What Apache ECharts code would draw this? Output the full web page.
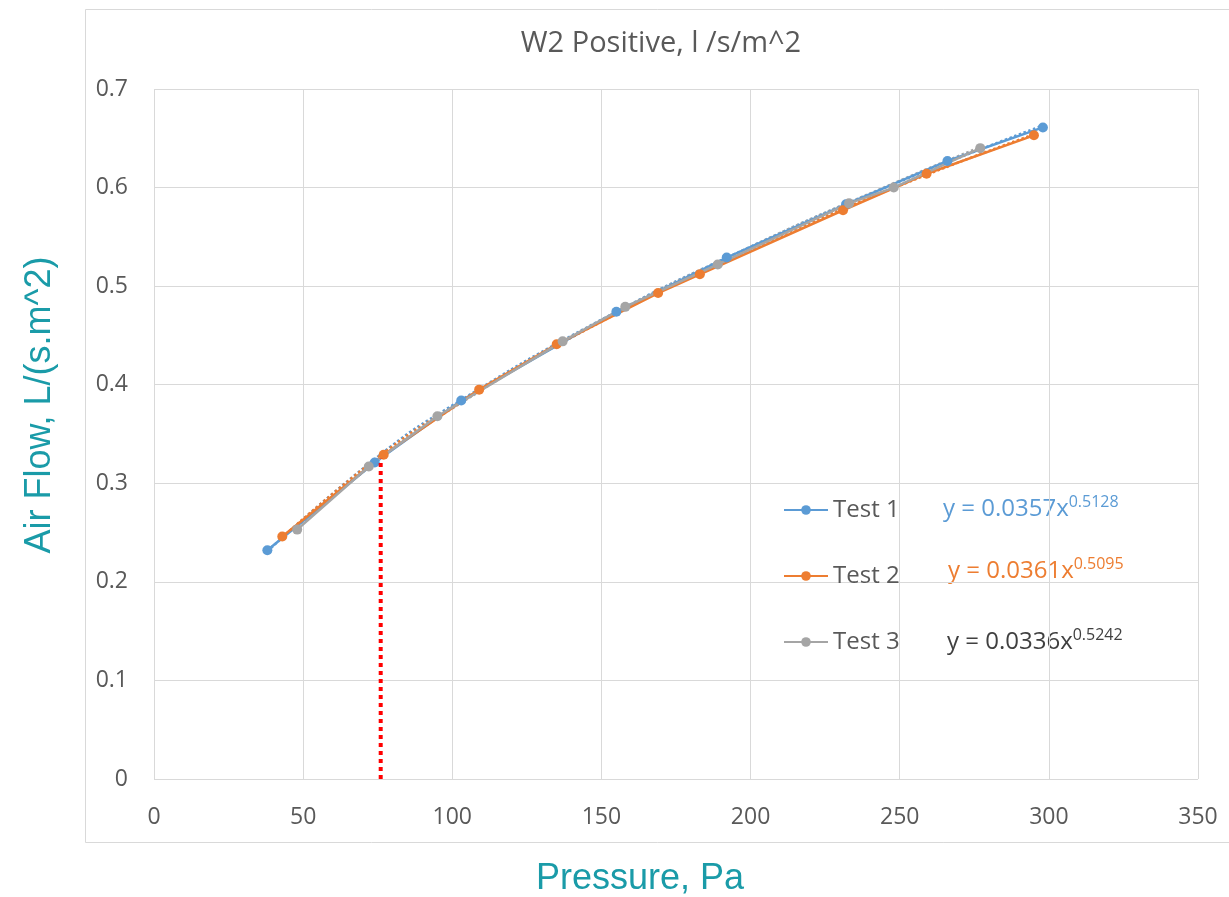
<!DOCTYPE html>
<html>
<head>
<meta charset="utf-8">
<script src="https://cdn.jsdelivr.net/npm/echarts@6/dist/echarts.min.js"></script>
<style>
html,body{margin:0;padding:0;background:#fff;}
#main{width:1229px;height:897px;}
</style>
</head>
<body>
<div id="main"></div>
<script>
var test1 = [[38,0.232],[74,0.321],[103,0.384],[155,0.474],[192,0.529],[232,0.583],[266,0.627],[298,0.661]];
var test2 = [[43,0.246],[77,0.329],[109,0.395],[135,0.441],[169,0.493],[183,0.512],[231,0.577],[259,0.614],[295,0.653]];
var test3 = [[48,0.253],[72,0.317],[95,0.368],[137,0.444],[158,0.479],[189,0.522],[233,0.584],[248,0.600],[277,0.640]];
// power trendlines (dotted), estimated along the drawn curve
var trend1 = [[38,0.231],[75,0.327],[100,0.379],[150,0.466],[200,0.540],[250,0.606],[298,0.663]];
var trend2 = [[43,0.245],[75,0.326],[100,0.377],[150,0.464],[200,0.537],[250,0.602],[295,0.654]];
var trend3 = [[48,0.256],[75,0.323],[100,0.376],[150,0.465],[200,0.540],[250,0.607],[277,0.641]];
var marker = [[76,0],[76,0.325]];
var names = ['Test 1','Test 2','Test 3'];
var colors = ['#5B9BD5','#ED7D31','#A5A5A5'];
var eqs = [['0.0357','0.5128'],['0.0361','0.5095'],['0.0336','0.5242']];
var eqColors = ['#5B9BD5','#ED7D31','#404040'];
var eqPos = [[943,494],[948,556],[947,627]];

var chart = echarts.init(document.getElementById('main'));
var lbl = '#595959';
var teal = '#1A9BA8';

function dataSeries(i, d){
    return {
        name: names[i], type: 'line', data: d, symbol: 'circle', symbolSize: 10,
        itemStyle: {color: colors[i]},
        lineStyle: {color: colors[i], width: 2.5},
        z: 3
    };
}
function trendSeries(i, d){
    return {
        name: names[i] + ' trend', type: 'line', data: d, smooth: true, symbol: 'none',
        lineStyle: {color: colors[i], width: 2.5, type: 'dotted'},
        z: 2, silent: true
    };
}

var graphics = [{
    type: 'rect', left: 83, top: 7, z: -10,
    shape: {width: 1200, height: 833},
    style: {fill: 'none', stroke: '#D9D9D9', lineWidth: 1}
}, {
    type: 'text', x: 661, y: 29,
    style: {text: 'W2 Positive, l /s/m^2', fill: lbl, fontSize: 29, fontFamily: 'Open Sans', textAlign: 'center'}
}, {
    type: 'text', x: 40, y: 405, rotation: Math.PI / 2,
    style: {text: 'Air Flow, L/(s.m^2)', fill: teal, fontSize: 36, fontFamily: 'Liberation Sans',
            textAlign: 'center', textVerticalAlign: 'middle'}
}, {
    type: 'text', x: 640, y: 879,
    style: {text: 'Pressure, Pa', fill: teal, fontSize: 36, fontFamily: 'Liberation Sans',
            textAlign: 'center', textVerticalAlign: 'middle'}
}];
eqs.forEach(function(e, i){
    graphics.push({
        type: 'text', x: eqPos[i][0], y: eqPos[i][1],
        style: {
            text: '{b|y = ' + e[0] + 'x}{s|' + e[1] + '}',
            rich: {
                b: {fontSize: 24, lineHeight: 30, fontFamily: 'Open Sans', fill: eqColors[i]},
                s: {fontSize: 16, lineHeight: 16, fontFamily: 'Open Sans', fill: eqColors[i], verticalAlign: 'top'}
            }
        }
    });
});

chart.setOption({
    backgroundColor: '#fff',
    animation: false,
    legend: {
        data: names, orient: 'vertical', left: 783, top: 498, padding: 0,
        itemWidth: 44, itemHeight: 12, itemGap: 42,
        textStyle: {color: lbl, fontSize: 24, lineHeight: 24, fontFamily: 'Open Sans'}
    },
    grid: {left: 154, top: 89, width: 1044, height: 690, containLabel: false, outerBoundsMode: 'none'},
    xAxis: {
        type: 'value', min: 0, max: 350, interval: 50,
        axisLine: {show: false}, axisTick: {show: false},
        axisLabel: {color: lbl, fontSize: 23, fontFamily: 'Open Sans', margin: 27},
        splitLine: {show: true, lineStyle: {color: '#D9D9D9', width: 1}}
    },
    yAxis: {
        type: 'value', min: 0, max: 0.7, interval: 0.1,
        axisLine: {show: false}, axisTick: {show: false},
        axisLabel: {color: lbl, fontSize: 23, fontFamily: 'Open Sans', margin: 26},
        splitLine: {show: true, lineStyle: {color: '#D9D9D9', width: 1}}
    },
    graphic: graphics,
    series: [
        trendSeries(0, trend1), trendSeries(1, trend2), trendSeries(2, trend3),
        dataSeries(0, test1), dataSeries(1, test2), dataSeries(2, test3),
        {
            name: 'marker', type: 'line', data: marker, symbol: 'none', silent: true,
            lineStyle: {color: '#FF0000', width: 4, type: [4, 4]}, z: 4
        }
    ]
});
</script>
</body>
</html>
